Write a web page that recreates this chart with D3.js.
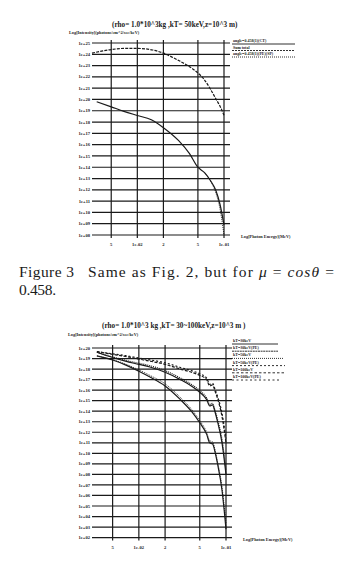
<!DOCTYPE html>
<html><head><meta charset="utf-8">
<script src="https://cdn.jsdelivr.net/npm/d3@7/dist/d3.min.js"></script>
<style>
html,body{margin:0;padding:0;background:#fff;}
svg{display:block;}
</style></head>
<body>
<script>
// ---------- DATA ----------
const xTickValues = [0.005, 0.01, 0.02, 0.05, 0.1];
const xTickLabels = ["5", "1e-02", "2", "5", "1e-01"];

const topYExponents = [25,24,23,22,21,20,19,18,17,16,15,14,13,12,11,10,9,8];
const bottomYExponents = [20,19,18,17,16,15,14,13,12,11,10,9,8,7,6,5,4,3,2];

// Top chart (kT = 50 keV) : energies in MeV, log10 intensity
const topEnergyA = [0.003, 0.004, 0.005, 0.007, 0.01, 0.015, 0.02, 0.03, 0.04, 0.05, 0.06, 0.07, 0.08, 0.09, 0.1];
const topSeriesA = [24.1, 24.3, 24.42, 24.52, 24.52, 24.38, 24.1, 23.45, 22.9, 22.35, 21.7, 20.9, 20.1, 19.4, 18.6];
const topEnergyB = [0.0034, 0.005, 0.007, 0.01, 0.0145, 0.02, 0.03, 0.04, 0.05, 0.06, 0.07, 0.08, 0.09, 0.1];
const topSeriesB = [19.8, 19.35, 18.95, 18.58, 18.2, 17.5, 16.35, 15.2, 14.0, 13.5, 12.8, 12.0, 10.7, 8.9];
const topEnergyC = [0.06, 0.07, 0.08, 0.09, 0.1];
const topSeriesC = [13.5, 12.75, 11.8, 10.3, 8.0];
const topLegend = ["angle=0.458(1)(CT)", "Sum total", "angle=0.458(1)(PE)(SP)"];

// Bottom chart (kT = 30, 50, 100 keV)
const botEnergy = [0.0033, 0.005, 0.007, 0.01, 0.0134, 0.02, 0.03, 0.04, 0.05, 0.06, 0.065, 0.07, 0.075, 0.08, 0.09, 0.1];
const kT100 =   [19.65, 19.4, 19.2, 18.95, 18.75, 18.45, 18.0, 17.7, 17.4, 17.0, 16.4, 16.5, 15.9, 15.2, 13.5, 11.0];
const kT100PE = [19.65, 19.45, 19.28, 19.05, 18.87, 18.6, 18.15, 17.85, 17.55, 17.15, 16.55, 16.65, 16.05, 15.4, 13.8, 11.4];
const kT50 =    [19.6, 19.1, 18.75, 18.45, 18.2, 17.7, 17.0, 16.4, 15.8, 15.1, 14.5, 14.6, 13.9, 13.0, 11.0, 8.0];
const kT50PE =  [19.6, 19.15, 18.83, 18.55, 18.32, 17.85, 17.15, 16.55, 15.95, 15.25, 14.65, 14.75, 14.05, 13.2, 11.3, 8.4];
const kT30 =    [19.25, 18.86, 18.4, 17.8, 17.25, 16.4, 15.1, 14.0, 12.9, 11.8, 11.0, 10.9, 10.1, 9.0, 6.5, 2.8];
const kT30PE =  [19.25, 18.9, 18.48, 17.92, 17.4, 16.6, 15.3, 14.2, 13.1, 12.0, 11.2, 11.1, 10.3, 9.2, 6.8, 3.3];
const botLegend = ["kT=30keV", "kT=30keV(PE)", "kT=50keV", "kT=50keV(PE)", "kT=100keV", "kT=100keV(PE)"];

// ---------- DRAW ----------
const W = 352, H = 573;
const svg = d3.select("body").append("svg").attr("width", W).attr("height", H);
const ink = "#1a1a1a";
const tickFont = "Liberation Serif";

function drawChart(cfg) {
  const g = svg.append("g");
  const x = d3.scaleLog().domain(cfg.xDomain).range([cfg.left, cfg.right]);
  const y = d3.scaleLinear().domain([cfg.yExp[0], cfg.yExp[cfg.yExp.length - 1]]).range([cfg.top, cfg.bottom]);

  g.append("g").selectAll("line").data(cfg.yExp).join("line")
    .attr("x1", cfg.left).attr("x2", cfg.right + 6)
    .attr("y1", d => y(d)).attr("y2", d => y(d))
    .attr("stroke", ink).attr("stroke-width", 1.2);
  g.append("g").selectAll("text").data(cfg.yExp).join("text")
    .attr("x", cfg.left - 2).attr("y", d => y(d) + 1.6)
    .attr("text-anchor", "end").attr("font-family", tickFont).attr("font-weight", "bold")
    .attr("font-size", 4.6).attr("fill", ink)
    .text(d => "1e+" + String(d).padStart(2, "0"));
  g.append("g").selectAll("line").data(xTickValues).join("line")
    .attr("x1", d => x(d)).attr("x2", d => x(d))
    .attr("y1", cfg.top - 3).attr("y2", cfg.bottom + 3)
    .attr("stroke", ink).attr("stroke-width", 1.2);
  g.append("g").selectAll("text").data(xTickValues).join("text")
    .attr("x", d => x(d)).attr("y", cfg.bottom + 11)
    .attr("text-anchor", "middle").attr("font-family", tickFont).attr("font-weight", "bold")
    .attr("font-size", 4.6).attr("fill", ink)
    .text((d, i) => xTickLabels[i]);

  g.append("text").attr("x", cfg.titleX).attr("y", cfg.titleY)
    .attr("font-family", tickFont).attr("font-weight", "bold").attr("font-size", 7.2).attr("fill", ink)
    .text(cfg.title);
  g.append("text").attr("x", cfg.yLabelX).attr("y", cfg.yLabelY)
    .attr("font-family", tickFont).attr("font-weight", "bold").attr("font-size", 4.3).attr("fill", ink)
    .text("Log[Intensity](photons/cm^2/sec/keV)");
  g.append("text").attr("x", cfg.right + 17).attr("y", cfg.bottom + 3)
    .attr("font-family", tickFont).attr("font-weight", "bold").attr("font-size", 4.3).attr("fill", ink)
    .text("Log[Photon Energy](MeV)");

  const line = d3.line().x(d => x(d[0])).y(d => y(d[1])).curve(d3.curveMonotoneX);
  cfg.series.forEach(s => {
    g.append("path").datum(s.e.map((e, i) => [e, s.v[i]]))
      .attr("d", line).attr("fill", "none").attr("stroke", ink)
      .attr("stroke-width", s.w || 1.2).attr("stroke-dasharray", s.dash || null);
  });

  cfg.legend.forEach((t, i) => {
    const ly = cfg.legendY + i * cfg.legendStep;
    g.append("line").attr("x1", cfg.legendX).attr("x2", cfg.legendX + cfg.legendLen[i])
      .attr("y1", ly + 2).attr("y2", ly + 2).attr("stroke", ink).attr("stroke-width", 0.9)
      .attr("stroke-dasharray", cfg.legendDash[i]);
    g.append("text").attr("x", cfg.legendX + 1).attr("y", ly)
      .attr("font-family", tickFont).attr("font-weight", "bold").attr("font-size", 4).attr("fill", ink)
      .text(t);
  });
}

drawChart({
  xDomain: [0.003, 0.1], left: 92, right: 224, top: 43, bottom: 235,
  yExp: topYExponents,
  title: "(rho= 1.0*10^3kg ,kT= 50keV,z=10^3 m)", titleX: 112, titleY: 27,
  yLabelX: 69, yLabelY: 34,
  series: [
    {e: topEnergyA, v: topSeriesA, dash: "3,1.2"},
    {e: topEnergyB, v: topSeriesB},
    {e: topEnergyC, v: topSeriesC, dash: "1,1", w: 0.9}
  ],
  legend: topLegend, legendX: 232, legendY: 42, legendStep: 6.5,
  legendLen: [63, 63, 63], legendDash: [null, "2,1", "1,1"]
});

drawChart({
  xDomain: [0.0029, 0.1], left: 92, right: 226, top: 348, bottom: 537.6,
  yExp: bottomYExponents,
  title: "(rho= 1.0*10^3 kg ,kT= 30~100keV,z=10^3 m )", titleX: 102, titleY: 328,
  yLabelX: 68, yLabelY: 336,
  series: [
    {e: botEnergy, v: kT100, dash: "3,1.5"},
    {e: botEnergy, v: kT100PE, dash: "2,2"},
    {e: botEnergy, v: kT50},
    {e: botEnergy, v: kT50PE, dash: "1,1"},
    {e: botEnergy, v: kT30},
    {e: botEnergy, v: kT30PE, dash: "1,1", w: 0.9}
  ],
  legend: botLegend, legendX: 232, legendY: 342, legendStep: 7.2,
  legendLen: [46, 46, 52, 53, 53, 48], legendDash: [null, "2,0.6", "1,1", "2,2", "2.5,2", "2,2.5"]
});

// caption
function fitText(sel, target) {
  const w = sel.node().getComputedTextLength();
  const n = sel.text().length;
  if (n > 1) sel.attr("letter-spacing", ((target - w) / (n - 1)).toFixed(3));
}
const capFont = {family: "Liberation Serif", size: 15.5};
const c1 = svg.append("text").attr("font-family", capFont.family).attr("font-size", capFont.size).attr("fill", ink)
  .attr("x", 19).attr("y", 277).text("Figure 3");
fitText(c1, 55);
const c2 = svg.append("text").attr("font-family", capFont.family).attr("font-size", capFont.size).attr("fill", ink)
  .attr("x", 88).attr("y", 277);
c2.append("tspan").text("Same as Fig.  2, but for ");
c2.append("tspan").attr("font-style", "italic").text("μ");
c2.append("tspan").text(" = ");
c2.append("tspan").attr("font-style", "italic").text("cosθ");
c2.append("tspan").text(" =");
fitText(c2, 247);
const c3 = svg.append("text").attr("font-family", capFont.family).attr("font-size", capFont.size).attr("fill", ink)
  .attr("x", 19).attr("y", 295).text("0.458.");
fitText(c3, 37);
</script>
</body></html>
